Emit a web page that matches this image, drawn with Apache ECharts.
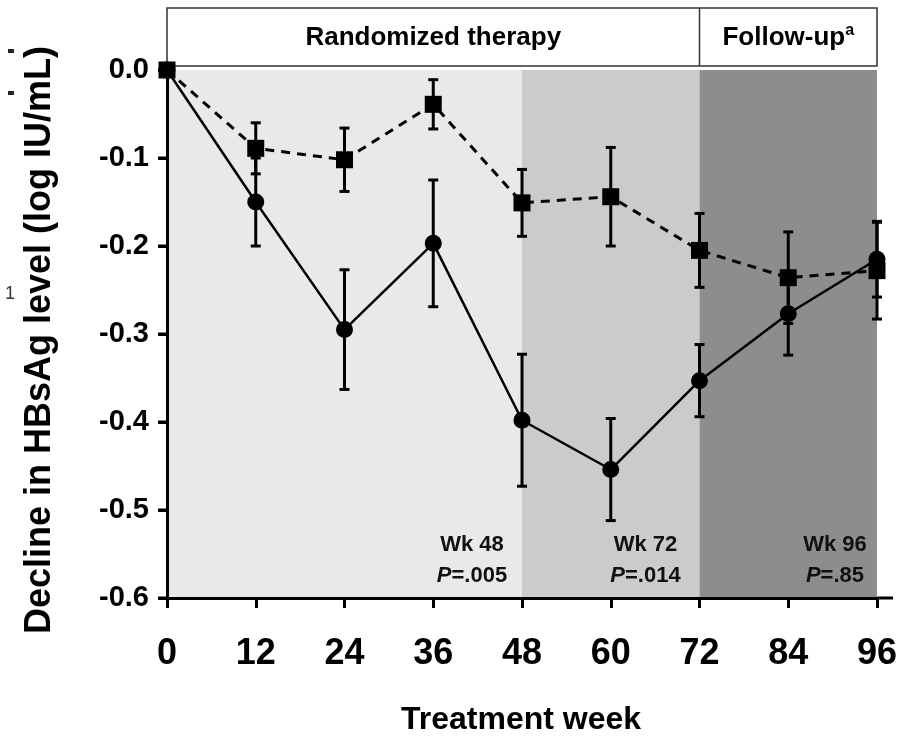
<!DOCTYPE html>
<html><head><meta charset="utf-8">
<script src="https://cdn.jsdelivr.net/npm/echarts@6/dist/echarts.min.js"></script>
<style>html,body{margin:0;padding:0;background:#fff}#c{width:908px;height:739px}</style>
</head><body><div id="c"></div>
<script>
// ---- data ----
const weeks = [0, 12, 24, 36, 48, 60, 72, 84, 96];
const solidMean = [0, -0.150, -0.295, -0.197, -0.398, -0.454, -0.353, -0.277, -0.215];
const solidErr  = [0, 0.050, 0.068, 0.072, 0.075, 0.058, 0.041, 0.047, 0.043];
const dashedMean = [0, -0.089, -0.102, -0.039, -0.151, -0.144, -0.205, -0.236, -0.228];
const dashedErr  = [0, 0.029, 0.036, 0.028, 0.038, 0.056, 0.042, 0.052, 0.055];
const yTickValues = [0, -0.1, -0.2, -0.3, -0.4, -0.5, -0.6];
const phaseStarts = [0, 48, 72];
const phaseEnds = [48, 72, 96];
const headerLabels = ['Randomized therapy', 'Follow-up'];
const headerBounds = [[0, 72], [72, 96]];
const noteWeeks = [48, 72, 96];
const noteLabels = ['Wk 48', 'Wk 72', 'Wk 96'];
const noteP = ['.005', '.014', '.85'];

// ---- styles / layout ----
const phaseColors = ['#e9e9e9', '#cbcbcb', '#8d8d8d'];
const noteOffsets = [-50, -54, -42];
const FONT = '"Liberation Sans", Arial, sans-serif';

const chart = echarts.init(document.getElementById('c'));

function errData(mean, err) {
  return weeks.map((w, i) => [w, mean[i], err[i]]);
}
function errRender(params, api) {
  const e = api.value(2);
  if (!e) return null;
  const x = api.value(0), m = api.value(1);
  const top = api.coord([x, m + e]);
  const bot = api.coord([x, m - e]);
  const cap = 5;
  const st = { stroke: '#000', lineWidth: 3 };
  return {
    type: 'group',
    children: [
      { type: 'line', shape: { x1: top[0], y1: top[1], x2: bot[0], y2: bot[1] }, style: st },
      { type: 'line', shape: { x1: top[0] - cap, y1: top[1], x2: top[0] + cap, y2: top[1] }, style: st },
      { type: 'line', shape: { x1: bot[0] - cap, y1: bot[1], x2: bot[0] + cap, y2: bot[1] }, style: st }
    ]
  };
}

const option = {
  animation: false,
  backgroundColor: '#fff',
  grid: { left: 167, right: 31, top: 70, bottom: 141 },
  xAxis: {
    type: 'value', min: 0, max: 96, interval: 12, z: 10,
    axisLine: { onZero: false, lineStyle: { color: '#000', width: 3 } },
    axisTick: { length: 10, lineStyle: { color: '#000', width: 3 } },
    splitLine: { show: false },
    axisLabel: { color: '#000', fontFamily: FONT, fontWeight: 'bold', fontSize: 36, margin: 38 }
  },
  yAxis: {
    type: 'value', min: -0.6, max: 0, interval: 0.1, z: 10,
    axisLine: { show: true, onZero: false, lineStyle: { color: '#000', width: 3 } },
    axisTick: { show: true, inside: false, length: 9, lineStyle: { color: '#000', width: 3 } },
    splitLine: { show: false },
    axisLabel: { color: '#000', fontFamily: FONT, fontWeight: 'bold', fontSize: 29, margin: 18,
      formatter: v => (Math.abs(v) < 1e-9 ? 0 : v).toFixed(1) }
  },
  series: [
    {
      type: 'line', data: [], silent: true, z: 1,
      markArea: {
        silent: true,
        data: phaseStarts.map((s, i) => [{ xAxis: s, itemStyle: { color: phaseColors[i] } }, { xAxis: phaseEnds[i] }])
      }
    },
    {
      type: 'custom', renderItem: errRender, data: errData(solidMean, solidErr), z: 12,
      encode: { x: 0, y: 1 }
    },
    {
      type: 'custom', renderItem: errRender, data: errData(dashedMean, dashedErr), z: 12,
      encode: { x: 0, y: 1 }
    },
    {
      type: 'line', data: weeks.map((w, i) => [w, solidMean[i]]), z: 13,
      symbol: 'circle', symbolSize: 17, showSymbol: true,
      lineStyle: { color: '#000', width: 2.5 }, itemStyle: { color: '#000' }
    },
    {
      type: 'line', data: weeks.map((w, i) => [w, dashedMean[i]]), z: 14,
      symbol: 'rect', symbolSize: 17, showSymbol: true,
      lineStyle: { color: '#000', width: 3, type: [9, 7] }, itemStyle: { color: '#000' }
    }
  ]
};
chart.setOption(option);

function px(w, v) { return chart.convertToPixel({ gridIndex: 0 }, [w, v]); }
const g = [];
const y0 = px(0, 0)[1];
const boxTop = 8, boxBot = y0 - 4;
const xL = px(0, 0)[0], xR = px(96, 0)[0];
g.push({ type: 'rect', shape: { x: xL, y: boxTop, width: xR - xL, height: boxBot - boxTop },
  style: { fill: '#fff', stroke: '#333', lineWidth: 1.5 }, z: 10 });
headerBounds.forEach((b, i) => {
  const a = px(b[0], 0)[0], c = px(b[1], 0)[0];
  if (i > 0) g.push({ type: 'line', shape: { x1: a, y1: boxTop, x2: a, y2: boxBot }, style: { stroke: '#333', lineWidth: 1.5 }, z: 10 });
  g.push({ type: 'text', x: (a + c) / 2, y: (boxTop + boxBot) / 2 + 1, z: 11,
    style: {
      text: i === 1 ? '{m|' + headerLabels[i] + '}{s|a}' : '{m|' + headerLabels[i] + '}',
      align: 'center', verticalAlign: 'middle', fill: '#000',
      rich: {
        m: { fontFamily: FONT, fontWeight: 'bold', fontSize: 26, lineHeight: 30, fill: '#000' },
        s: { fontFamily: FONT, fontWeight: 'bold', fontSize: 16, lineHeight: 16, verticalAlign: 'top', fill: '#000' }
      }
    } });
});
// y-axis ticks (outward), drawn as filled bars
yTickValues.forEach(v => {
  const p = px(0, v);
  g.push({ type: 'rect', shape: { x: p[0] - 9, y: p[1] - 1.5, width: 9, height: 3 }, style: { fill: '#000' }, z: 20 });
});
// x-axis line extension past last tick
g.push({ type: 'line', shape: { x1: xR, y1: px(96, -0.6)[1], x2: xR + 16, y2: px(96, -0.6)[1] }, style: { stroke: '#000', lineWidth: 3 }, z: 10 });
noteWeeks.forEach((w, i) => {
  const x = px(w, 0)[0] + noteOffsets[i];
  g.push({ type: 'text', x: x, y: 545, z: 11,
    style: { text: noteLabels[i], align: 'center', verticalAlign: 'middle', fill: '#111',
      font: 'bold 22px ' + FONT } });
  g.push({ type: 'text', x: x, y: 576, z: 11,
    style: { text: '{i|P}{n|=' + noteP[i] + '}', align: 'center', verticalAlign: 'middle',
      rich: {
        i: { fontFamily: FONT, fontWeight: 'bold', fontStyle: 'italic', fontSize: 22, fill: '#111' },
        n: { fontFamily: FONT, fontWeight: 'bold', fontSize: 22, fill: '#111' }
      } } });
});
// axis titles
g.push({ type: 'text', x: 40, y: 340, rotation: Math.PI / 2, z: 11,
  style: { text: 'Decline in HBsAg level (log IU/mL)', align: 'center', verticalAlign: 'middle',
    font: 'bold 36px ' + FONT, fill: '#000' } });
g.push({ type: 'text', x: 521, y: 720, z: 11,
  style: { text: 'Treatment week', align: 'center', verticalAlign: 'middle',
    font: 'bold 32px ' + FONT, fill: '#000' } });
// cropped fragments at the left edge
g.push({ type: 'rect', shape: { x: 8, y: 49, width: 6, height: 4 }, style: { fill: '#222' }, z: 11 });
g.push({ type: 'rect', shape: { x: 8, y: 91, width: 6, height: 4 }, style: { fill: '#222' }, z: 11 });
g.push({ type: 'text', x: 10, y: 294, z: 11,
  style: { text: '1', align: 'center', verticalAlign: 'middle', font: '18px ' + FONT, fill: '#333' } });
chart.setOption({ graphic: g });
</script>
</body></html>
